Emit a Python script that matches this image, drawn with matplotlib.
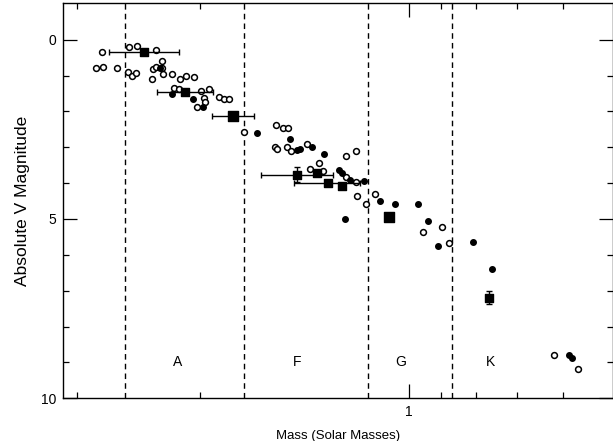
import matplotlib
matplotlib.use("Agg")
import matplotlib.pyplot as plt
from matplotlib.ticker import FixedLocator, NullFormatter, FixedFormatter
import numpy as np

plt.rcParams['font.family'] = ['Liberation Sans', 'DejaVu Sans']

# open circles: mass (solar masses), absolute V magnitude
open_mass = [2.763, 2.528, 2.463, 2.310, 2.818, 2.754, 2.629, 2.540, 2.506, 2.473,
             2.343, 2.337, 2.312, 2.265, 2.267, 2.257, 2.193, 2.135, 2.090, 2.040,
             2.178, 2.145, 1.995, 1.938, 1.970, 1.964, 2.018, 1.875, 1.846, 1.814,
             1.729, 1.556, 1.516, 1.493, 1.557, 1.546, 1.498, 1.480, 1.403, 1.345,
             1.231, 1.191, 1.386, 1.329, 1.232, 1.192, 1.189, 1.154, 1.119, 0.9556,
             0.8964, 0.8767, 0.6192, 0.5719]
open_mag = [0.33, 0.21, 0.17, 0.28, 0.79, 0.76, 0.78, 0.89, 1.00, 0.93,
            1.10, 0.83, 0.77, 0.60, 0.80, 0.96, 0.96, 1.10, 1.02, 1.05,
            1.35, 1.38, 1.42, 1.37, 1.63, 1.75, 1.89, 1.60, 1.65, 1.65,
            2.58, 2.37, 2.47, 2.47, 2.99, 3.06, 2.98, 3.11, 2.92, 3.44,
            3.25, 3.10, 3.61, 3.66, 3.82, 3.98, 4.36, 4.59, 4.31, 5.36,
            5.23, 5.68, 8.80, 9.18]

# filled circles
fill_mass = [2.191, 2.047, 1.979, 2.282, 1.657, 1.482, 1.449, 1.437, 1.379, 1.325,
             1.261, 1.247, 1.216, 1.161, 1.235, 1.101, 1.047, 0.9716, 0.9374, 0.9085,
             0.8089, 0.7590, 0.5880, 0.5817]
fill_mag = [1.51, 1.65, 1.88, 0.79, 2.61, 2.78, 3.08, 3.04, 2.99, 3.20,
            3.62, 3.73, 3.91, 3.93, 5.01, 4.49, 4.59, 4.58, 5.06, 5.76,
            5.65, 6.40, 8.78, 8.87]

# filled squares (means) with mass range and magnitude error
sq_mass = [2.406, 2.101, 1.792, 1.451, 1.358, 1.306, 1.247, 1.069, 0.7671]
sq_mag = [0.35, 1.47, 2.13, 3.76, 3.71, 4.00, 4.07, 4.94, 7.20]
sq_mlo = [2.145, 1.916, 1.670, 1.286, 1.358, 1.176, 1.247, 1.069, 0.7671]
sq_mhi = [2.702, 2.302, 1.919, 1.633, 1.358, 1.464, 1.247, 1.069, 0.7671]
sq_magerr = [0.0, 0.0, 0.0, 0.2, 0.0, 0.0, 0.0, 0.1, 0.18]
sq_big = [False, False, True, False, False, False, False, True, False]

# spectral class boundaries and labels
bounds = [2.56, 1.73, 1.146, 0.867]
classes = ['A', 'F', 'G', 'K']
class_mass = [2.15, 1.45, 1.027, 0.764]
class_mag = 9.0

fig = plt.figure(figsize=(6.13, 4.41), dpi=100)
ax = fig.add_axes([63 / 613, 1 - 398.3 / 441, 550 / 613, 395.3 / 441])
ax.set_xscale('log')
ax.set_xlim(3.147, 0.5085)
ax.set_ylim(10, -1.023)

for b in bounds:
    ax.axvline(b, color='black', lw=1.0, ls=(0, (4, 3)))

for c, cm in zip(classes, class_mass):
    ax.text(cm, class_mag, c, ha='center', va='center', fontsize=10)

ax.plot(open_mass, open_mag, 'o', ms=4.2, mfc='white', mec='black', mew=1.1)
ax.plot(fill_mass, fill_mag, 'o', ms=4.0, mfc='black', mec='black')

sm = np.array(sq_mass)
xerr = [sm - np.array(sq_mlo), np.array(sq_mhi) - sm]
ax.errorbar(sm, sq_mag, xerr=xerr, yerr=sq_magerr, fmt='none',
            ecolor='black', elinewidth=1.0, capsize=2.5, capthick=1.0)
big = np.array(sq_big)
ax.scatter(sm[~big], np.array(sq_mag)[~big], marker='s', s=30, color='black', zorder=3)
ax.scatter(sm[big], np.array(sq_mag)[big], marker='s', s=55, color='black', zorder=3)

ax.xaxis.set_major_locator(FixedLocator([1]))
ax.xaxis.set_major_formatter(FixedFormatter(['1']))
ax.xaxis.set_minor_locator(FixedLocator([3, 2, 0.9, 0.8, 0.7, 0.6]))
ax.xaxis.set_minor_formatter(NullFormatter())
ax.yaxis.set_major_locator(FixedLocator([0, 5, 10]))
ax.yaxis.set_minor_locator(FixedLocator(list(range(0, 11))))

ax.tick_params(which='major', direction='in', length=10, width=0.9,
               top=True, right=True, labelsize=10, pad=5)
ax.tick_params(which='minor', direction='in', length=4.5, width=0.9,
               top=True, right=True)
for s in ax.spines.values():
    s.set_linewidth(1.0)

ax.set_xlabel('Mass (Solar Masses)', fontsize=9.5, labelpad=8)
ax.set_ylabel('Absolute V Magnitude', fontsize=12.5, labelpad=8)

fig.savefig('out.png', dpi=100)
